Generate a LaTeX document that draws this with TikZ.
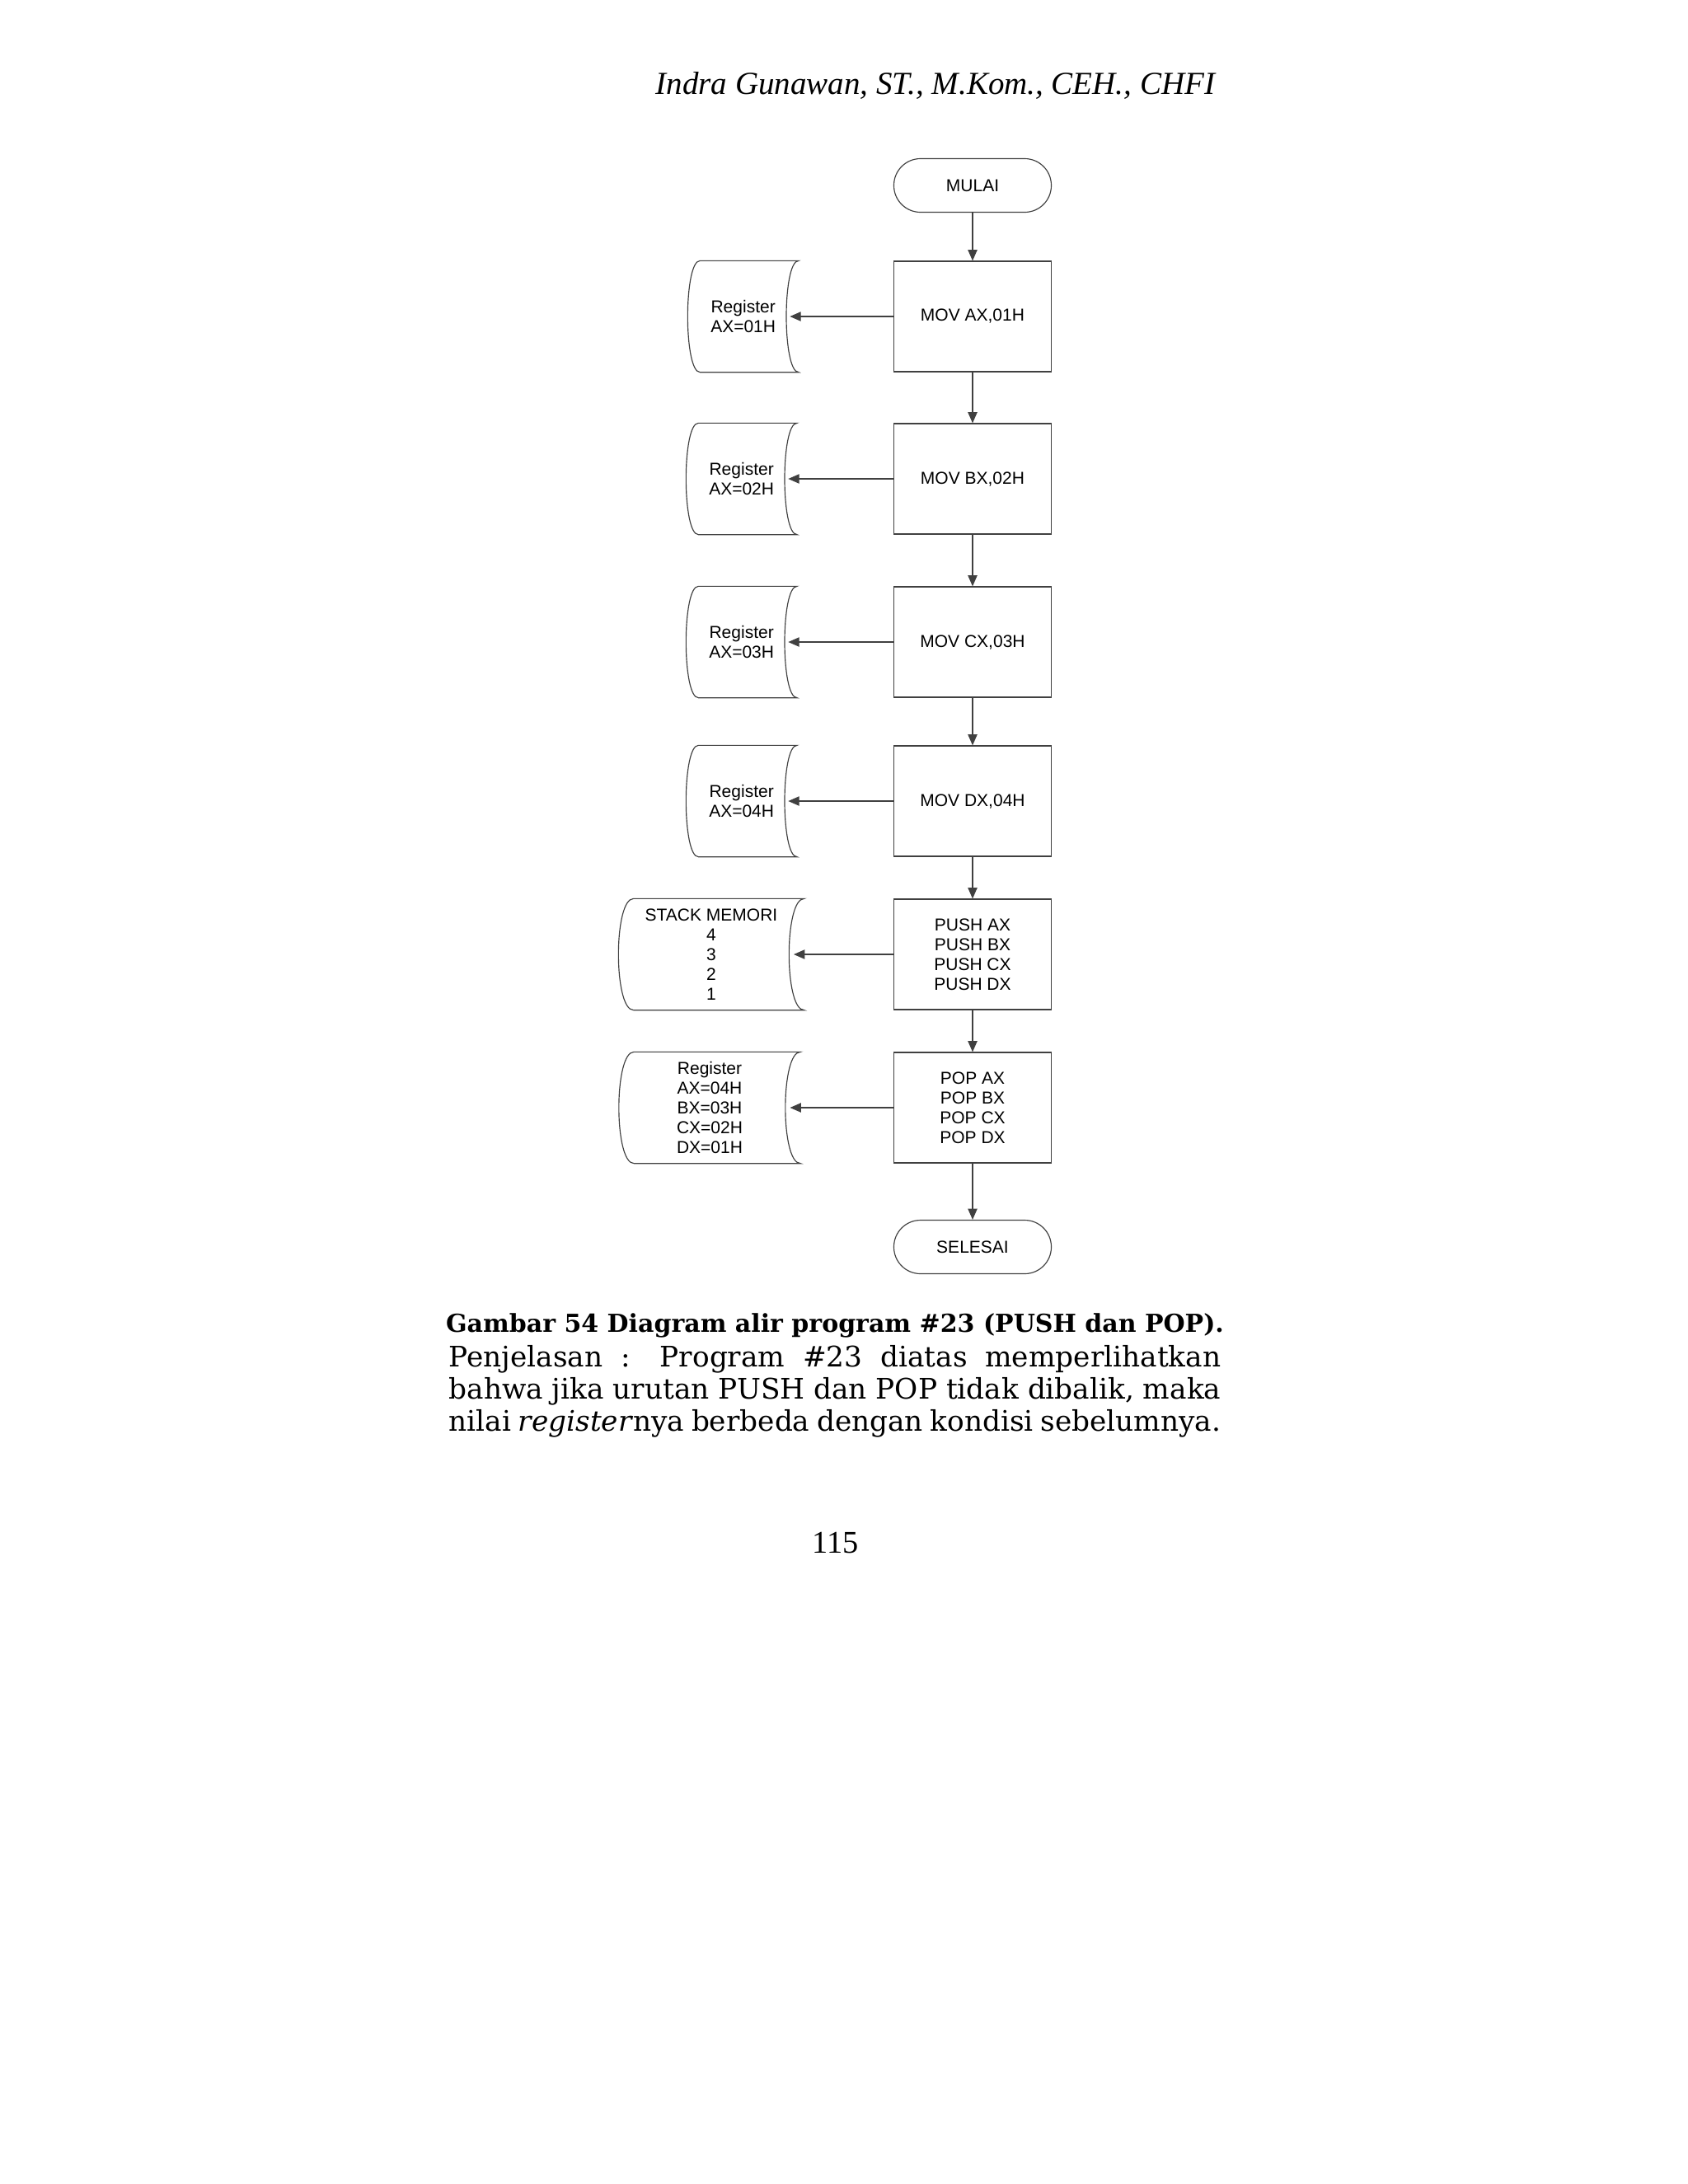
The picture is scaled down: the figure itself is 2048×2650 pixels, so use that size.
\documentclass[tikz,border=0pt]{standalone}
\usepackage{fontspec}
\setmainfont{DejaVu Serif}
\newfontfamily\timesf{Liberation Serif}
\newfontfamily\arial{Liberation Sans}
\usetikzlibrary{arrows.meta}
\tikzset{
 fc/.style={font=\arial\fontsize{6.3}{7.2}\selectfont, align=center, inner sep=0pt},
 procbox/.style={fc, draw=black!75, line width=0.35pt, minimum width=57.3pt, minimum height=40.2pt},
 termbox/.style={fc, draw=black!75, line width=0.35pt, rounded corners=9.7pt, minimum width=57.3pt, minimum height=19.5pt},
 storebox/.style={fc, minimum height=40.2pt},
 conn/.style={draw=black!75, line width=0.35pt, -{Triangle[length=4pt,width=3.4pt]}},
}
\newcommand{\storeshape}[2]{% node, d
 \draw[black!75, line width=0.35pt] ([xshift=#2]#1.north west) -- (#1.north east)
   .. controls ([xshift=-1.333*#2]#1.north east) and ([xshift=-1.333*#2]#1.south east) .. (#1.south east)
   -- ([xshift=#2]#1.south west)
   .. controls ([xshift=-0.333*#2]#1.south west) and ([xshift=-0.333*#2]#1.north west) .. ([xshift=#2]#1.north west);}
\begin{document}
\begin{tikzpicture}[x=0.3pt,y=-0.3pt]
\useasboundingbox (0,0) rectangle (2048,2650);
\node[font=\timesf\itshape\fontsize{11.7}{13}\selectfont, anchor=east] (hdr) at (1486,104) {Indra Gunawan, ST., M.Kom., CEH., CHFI};

\node[termbox] (mulai) at (1180,225) {MULAI};
\node[procbox] (b1) at (1180,384) {MOV AX,01H};
\node[procbox] (b2) at (1180,581) {MOV BX,02H};
\node[procbox] (b3) at (1180,779) {MOV CX,03H};
\node[procbox] (b4) at (1180,972) {MOV DX,04H};
\node[procbox] (b5) at (1180,1158) {PUSH AX\\PUSH BX\\PUSH CX\\PUSH DX};
\node[procbox] (b6) at (1180,1344) {POP AX\\POP BX\\POP CX\\POP DX};
\node[termbox] (selesai) at (1180,1513) {SELESAI};

\node[storebox, minimum width=40pt, xshift=-1pt] (s1) at (905,384) {Register\\AX=01H};
\node[storebox, minimum width=40pt, xshift=-1pt] (s2) at (903,581) {Register\\AX=02H};
\node[storebox, minimum width=40pt, xshift=-1pt] (s3) at (903,779) {Register\\AX=03H};
\node[storebox, minimum width=40pt, xshift=-1pt] (s4) at (903,972) {Register\\AX=04H};
\node[storebox, minimum width=67.2pt] (s5) at (863,1158) {STACK MEMORI\\4\\3\\2\\1};
\node[storebox, minimum width=65.7pt] (s6) at (861,1344) {Register\\AX=04H\\BX=03H\\CX=02H\\DX=01H};
\foreach \s in {s1,s2,s3,s4} {\storeshape{\s}{4.5pt}}
\foreach \s in {s5,s6} {\storeshape{\s}{5.5pt}}

\draw[conn] (mulai) -- (b1);
\draw[conn] (b1) -- (b2);
\draw[conn] (b2) -- (b3);
\draw[conn] (b3) -- (b4);
\draw[conn] (b4) -- (b5);
\draw[conn] (b5) -- (b6);
\draw[conn] (b6) -- (selesai);
\foreach \b/\s in {b1/s1,b2/s2,b3/s3,b4/s4}
  \draw[conn] (\b.west) -- ([xshift=-3.2pt]\s.east);
\foreach \b/\s in {b5/s5,b6/s6}
  \draw[conn] (\b.west) -- ([xshift=-3.8pt]\s.east);

\node[font=\bfseries\fontsize{9}{11}\selectfont] (cap) at (1013,1608) {Gambar 54 Diagram alir program \#23 (PUSH dan POP).};
\node[font=\fontsize{10.3}{11.6}\selectfont, text width=281pt, align=justify, anchor=north west, inner sep=0pt] (par) at (544,1632)
 {Penjelasan : Program \#23 diatas memperlihatkan bahwa jika urutan PUSH dan POP tidak dibalik, maka nilai \textit{register}nya berbeda dengan kondisi sebelumnya.};
\node[font=\timesf\fontsize{11.5}{12}\selectfont] (pg) at (1014,1872) {115};
\end{tikzpicture}
\end{document}
